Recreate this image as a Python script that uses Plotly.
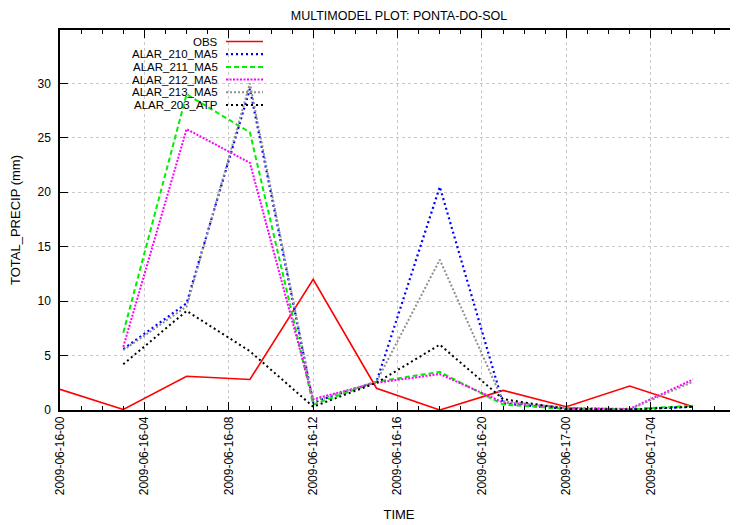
import plotly.graph_objects as go

# ---- data ----
obs_times = ["2009-06-16 00:00", "2009-06-16 03:00", "2009-06-16 06:00", "2009-06-16 09:00",
             "2009-06-16 12:00", "2009-06-16 15:00", "2009-06-16 18:00", "2009-06-16 21:00",
             "2009-06-17 00:00", "2009-06-17 03:00", "2009-06-17 06:00"]
model_times = obs_times[1:]

obs = [1.9, 0.05, 3.1, 2.8, 12.0, 2.0, 0.0, 1.8, 0.3, 2.2, 0.3]
alar_210 = [5.6, 9.8, 29.5, 0.7, 2.6, 20.5, 0.6, 0.1, 0.05, 0.3]
alar_211 = [7.1, 29.0, 25.5, 0.5, 2.6, 3.5, 0.5, 0.1, 0.05, 0.4]
alar_212 = [5.8, 25.8, 22.7, 1.0, 2.5, 3.3, 0.7, 0.2, 0.1, 2.8]
alar_213 = [5.5, 9.5, 30.0, 0.8, 2.6, 13.8, 0.8, 0.2, 0.05, 2.6]
alar_203 = [4.2, 9.1, 5.4, 0.3, 2.5, 6.0, 1.0, 0.1, 0.05, 0.3]

names = ["OBS", "ALAR_210_MA5", "ALAR_211_MA5", "ALAR_212_MA5", "ALAR_213_MA5", "ALAR_203_ATP"]
y_ticks = [0, 5, 10, 15, 20, 25, 30]

series = [
    (names[0], obs_times, obs, dict(color="#ff0000", width=1.6, dash="solid")),
    (names[1], model_times, alar_210, dict(color="#0000ff", width=2.2, dash="2px,3px")),
    (names[2], model_times, alar_211, dict(color="#00ee00", width=2, dash="5px,3px")),
    (names[3], model_times, alar_212, dict(color="#ff00ff", width=2, dash="2px,1.5px")),
    (names[4], model_times, alar_213, dict(color="#909090", width=2, dash="2px,2px")),
    (names[5], model_times, alar_203, dict(color="#000000", width=2, dash="2px,3px")),
]

fig = go.Figure()
for name, xs, ys, line in series:
    fig.add_trace(go.Scatter(x=xs, y=ys, mode="lines", name=name, line=line, showlegend=False))

# page body adds ~8px offset; figure drawn 730x517 so plot area lands at x 60..738, y 30..410
OFF = 8
plot_left, plot_right = 60 - OFF, 738 - OFF
plot_top, plot_bot = 30 - OFF, 410 - OFF
W, H = 730, 517

# custom gnuplot-style legend (text right, sample line left)
row_px = [41.5, 54.2, 66.9, 79.6, 92.3, 105]
for (name, xs, ys, line), py in zip(series, row_px):
    yp = (plot_bot - (py - OFF)) / (plot_bot - plot_top)
    fig.add_annotation(x=(219 - 60) / (plot_right - plot_left), y=yp, xref="paper", yref="paper",
                       text=name, showarrow=False, xanchor="right", yanchor="middle",
                       borderpad=0, font=dict(size=11.5, color="#000000"))
    fig.add_shape(type="line", xref="paper", yref="paper",
                  x0=(226 - 60) / (plot_right - plot_left), x1=(263 - 60) / (plot_right - plot_left),
                  y0=yp, y1=yp, line=line)

fig.update_layout(
    width=W, height=H,
    margin=dict(l=plot_left, r=W - plot_right, t=plot_top, b=H - plot_bot),
    paper_bgcolor="white", plot_bgcolor="white",
    font=dict(family="Liberation Sans, Arial, sans-serif", size=12, color="#000000"),
    title=dict(text="MULTIMODEL PLOT: PONTA-DO-SOL", x=(399 - OFF) / W, xanchor="center",
               y=1 - 3.5 / H, yanchor="top", font=dict(size=12.5)),
    xaxis=dict(
        type="date", automargin=False,
        range=["2009-06-16 00:00", "2009-06-17 08:08"],
        tick0="2009-06-16 00:00", dtick=4 * 3600000,
        tickformat="%Y-%m-%d-%H", tickangle=-90,
        ticks="inside", ticklen=8, tickcolor="#000000",
        minor=dict(dtick=3600000, tick0="2009-06-16 00:00", ticks="inside", ticklen=4,
                   tickcolor="#000000", showgrid=False),
        showline=True, linecolor="#000000", linewidth=1.5, mirror="allticks",
        showgrid=True, gridcolor="#c8c8c8", griddash="dot", gridwidth=1,
        zeroline=False,
        title=dict(text="TIME", font=dict(size=13), standoff=16),
    ),
    yaxis=dict(
        range=[0, 34.9], tickvals=y_ticks, automargin=False,
        ticks="inside", ticklen=8, tickcolor="#000000", ticklabelstandoff=5,
        showline=True, linecolor="#000000", linewidth=1.5, mirror="allticks",
        showgrid=True, gridcolor="#c8c8c8", griddash="dot", gridwidth=1,
        zeroline=False,
        title=dict(text="TOTAL_PRECIP (mm)", font=dict(size=13), standoff=14),
    ),
)

fig.write_html("out.html")
